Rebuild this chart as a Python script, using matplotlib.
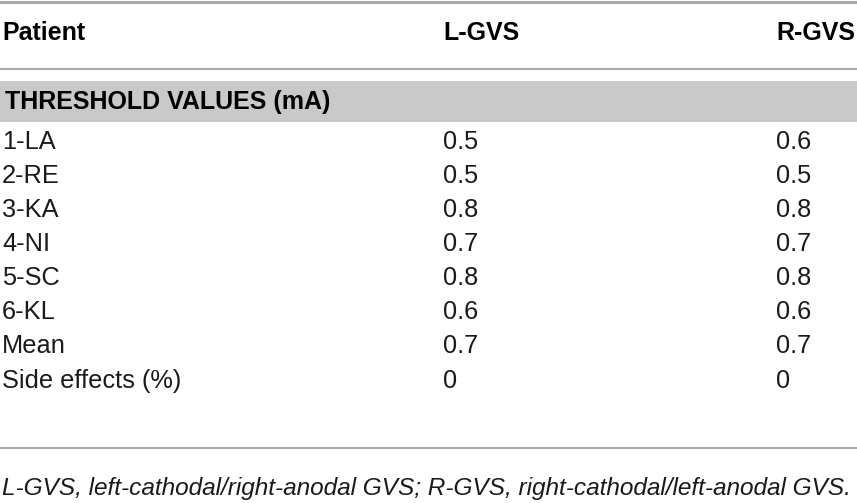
import matplotlib.pyplot as plt

# table content
columns = ["Patient", "L-GVS", "R-GVS"]
section = "THRESHOLD VALUES (mA)"
patients = ["1-LA", "2-RE", "3-KA", "4-NI", "5-SC", "6-KL", "Mean", "Side effects (%)"]
l_gvs = ["0.5", "0.5", "0.8", "0.7", "0.8", "0.6", "0.7", "0"]
r_gvs = ["0.6", "0.5", "0.8", "0.7", "0.8", "0.6", "0.7", "0"]
footnote = "L-GVS, left-cathodal/right-anodal GVS; R-GVS, right-cathodal/left-anodal GVS."

W, H = 857, 503
fam = ["Liberation Sans", "DejaVu Sans"]

fig = plt.figure(figsize=(W / 100, H / 100), dpi=100)
ax = fig.add_axes([0, 0, 1, 1])
ax.set_xlim(0, W)
ax.set_ylim(H, 0)
ax.axis("off")

col_x = [2, 443, 776]
line_col = "#a8a8a8"
txt_col = "#1a1a1a"

# rules
ax.plot([0, W], [1.5, 1.5], color=line_col, lw=2.2)
ax.plot([0, W], [69, 69], color=line_col, lw=1.5)
ax.plot([0, W], [448, 448], color=line_col, lw=1.5)

# header
for x, c in zip(col_x, columns):
    ax.text(x, 33, c, fontsize=18, fontweight="bold", family=fam, va="center", ha="left")

# section band
ax.add_patch(plt.Rectangle((0, 81), W, 41, color="#c9c9c9", lw=0))
ax.text(5, 102, section, fontsize=18, fontweight="bold", family=fam, va="center", ha="left")

# rows
row_y = [142, 176, 210, 244, 278, 312, 346, 381]
for y, p, l, r in zip(row_y, patients, l_gvs, r_gvs):
    ax.text(col_x[0], y, p, fontsize=18.3, family=fam, va="center", ha="left", color=txt_col)
    ax.text(col_x[1], y, l, fontsize=18.3, family=fam, va="center", ha="left", color=txt_col)
    ax.text(col_x[2], y, r, fontsize=18.3, family=fam, va="center", ha="left", color=txt_col)

ax.text(2, 488, footnote, fontsize=17.6, style="italic", family=fam, va="center", ha="left", color=txt_col)

fig.savefig("out.png", dpi=100)
